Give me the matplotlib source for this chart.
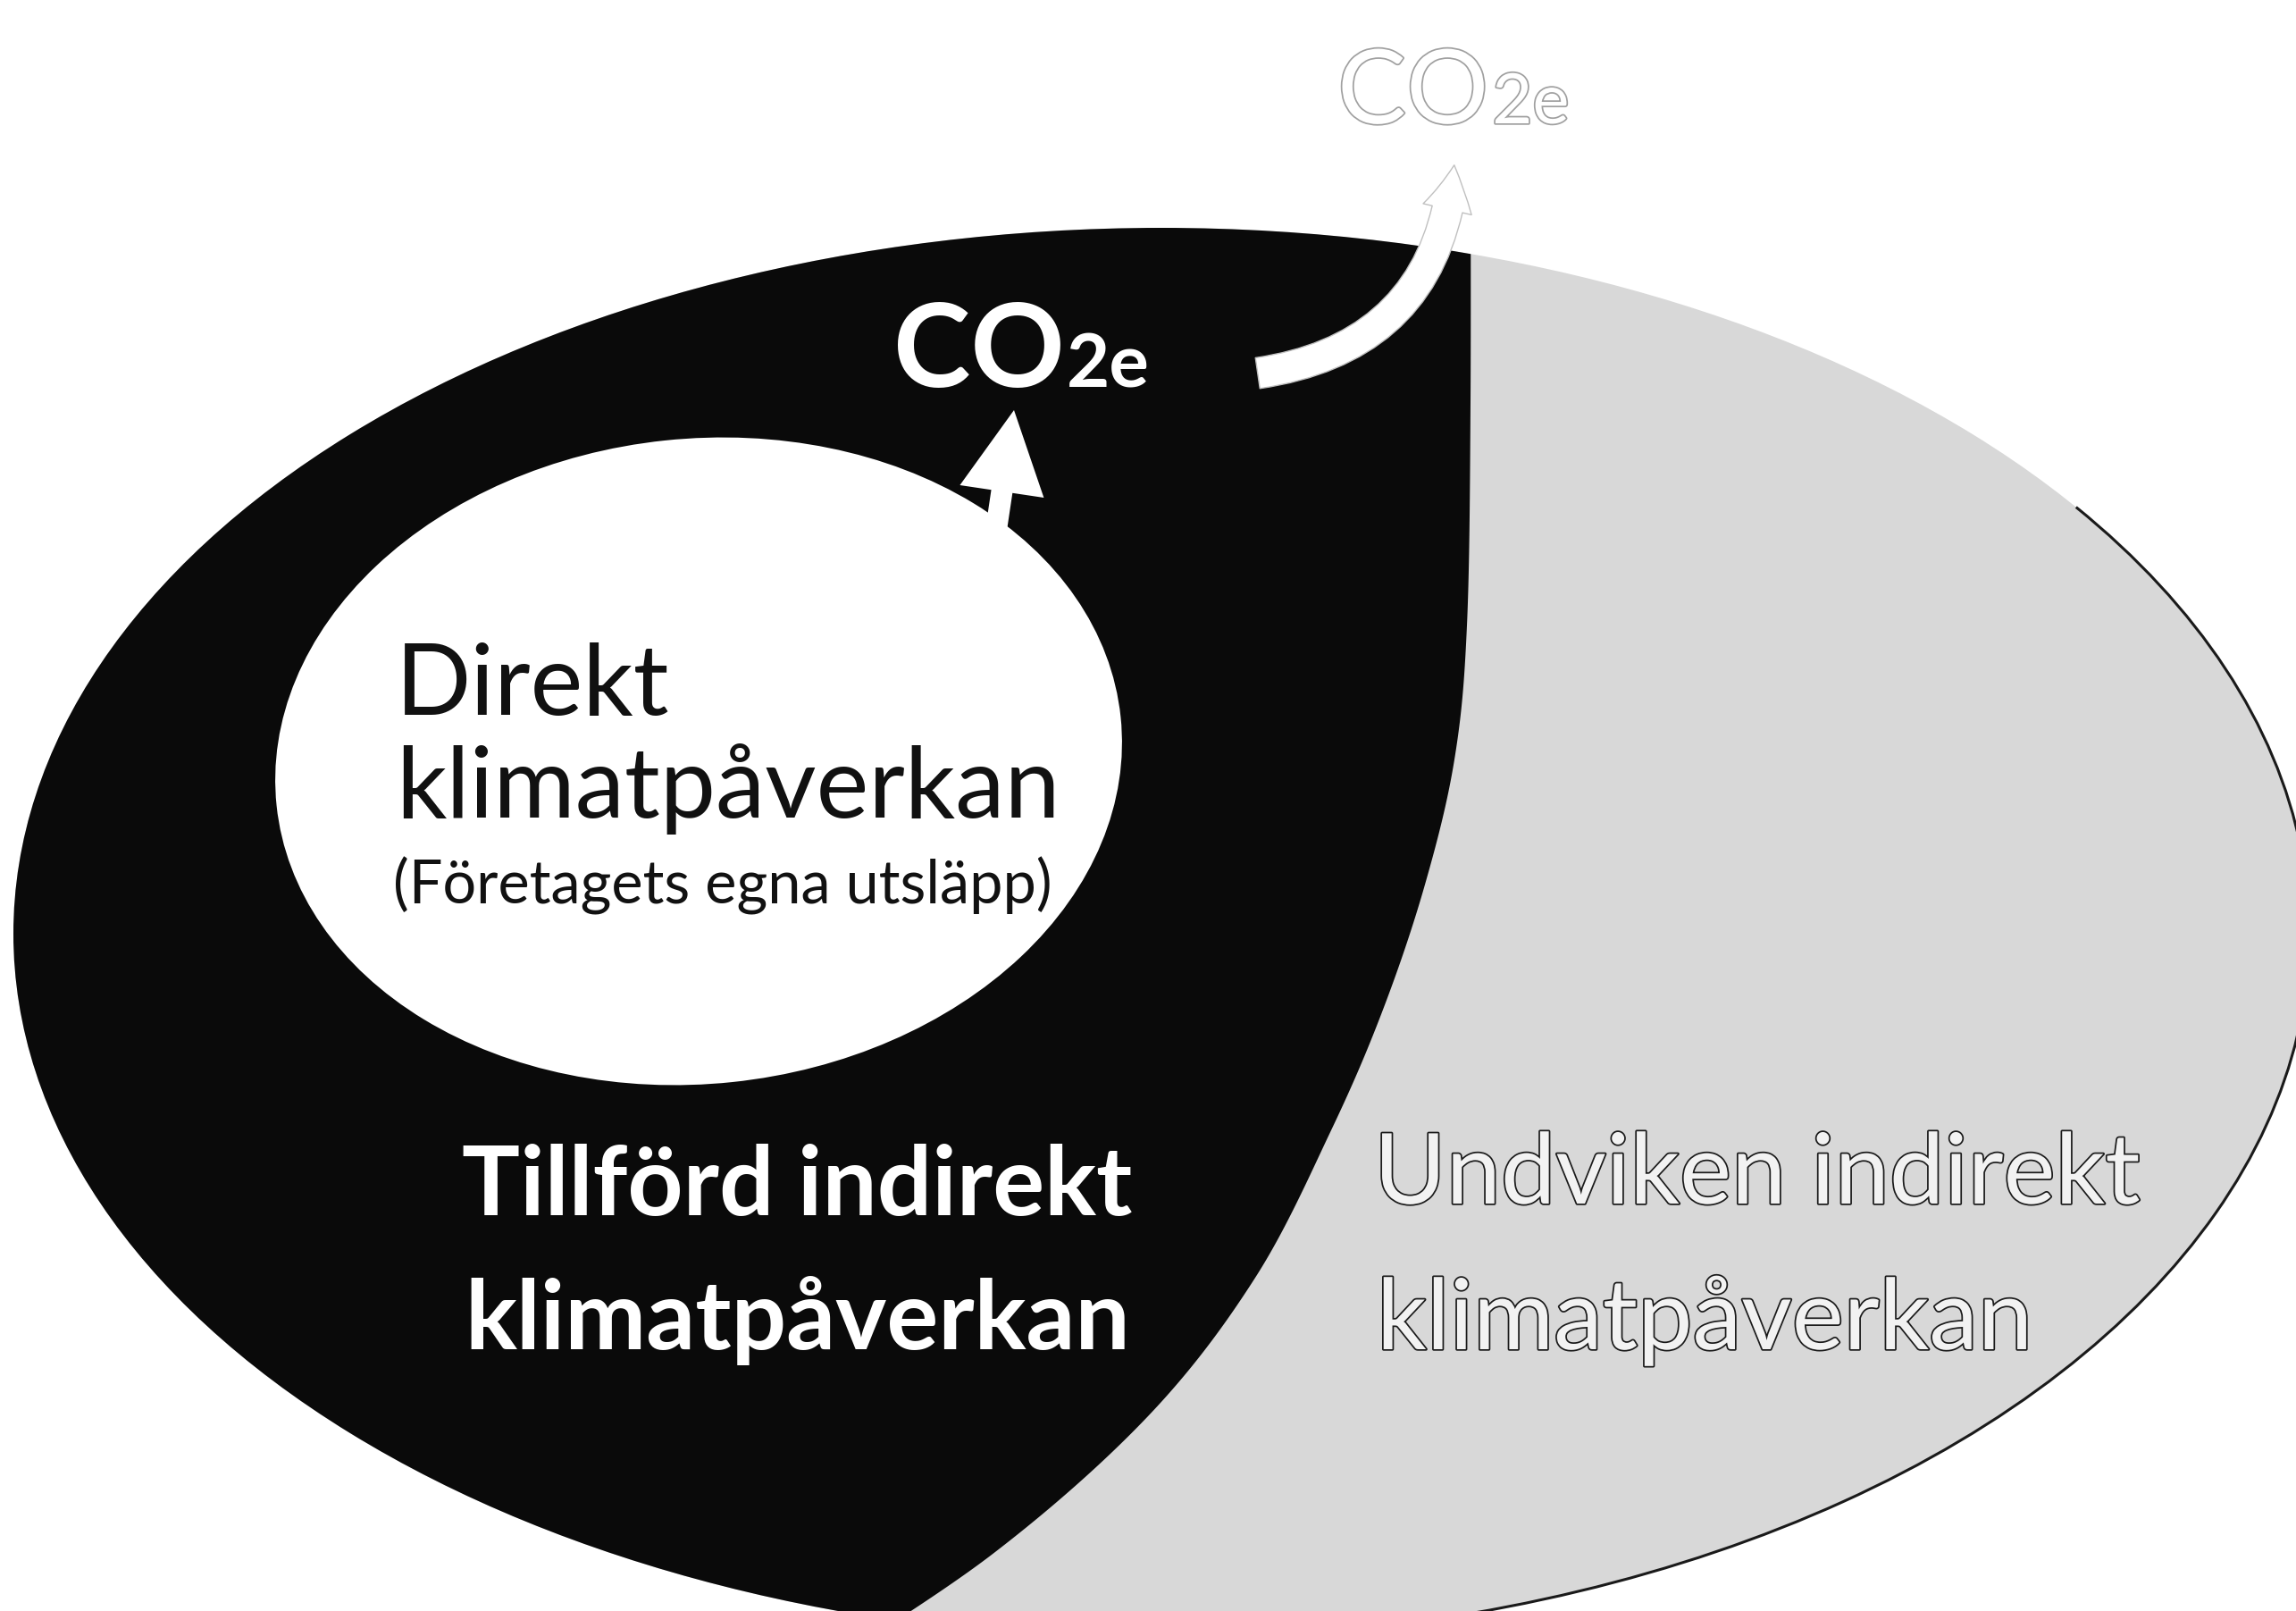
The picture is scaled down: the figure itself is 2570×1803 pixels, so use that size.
import numpy as np
import matplotlib
matplotlib.use("Agg")
import matplotlib.pyplot as plt
from matplotlib.patches import Ellipse, Polygon, Arc, FancyArrow, FancyArrowPatch
import matplotlib.patheffects as pe

plt.rcParams["font.family"] = ["Lato", "DejaVu Sans"]

# texts of the diagram
direct_title = ["Direkt", "klimatpåverkan"]
direct_note = "(Företagets egna utsläpp)"
supplied_title = ["Tillförd indirekt", "klimatpåverkan"]
avoided_title = ["Undviken indirekt", "klimatpåverkan"]
gas_main = "CO"
gas_sub = "2e"

# shape outline, in pixels of the 2570 x 1803 picture (y downwards)
outer_center = (1300, 1045)
outer_size = (2570, 1580)
inner_center = (782, 852)
inner_size = (950, 722)
inner_angle = -6
split_x = [1646, 1646, 1642, 1628, 1595, 1548, 1490, 1405, 1285, 1110, 900]
split_y = [100, 450, 700, 850, 990, 1130, 1265, 1430, 1585, 1740, 1880]


def smooth(xs, ys, n=40):
    # catmull-rom through the given points
    p = np.column_stack([xs, ys]).astype(float)
    p = np.vstack([p[0], p, p[-1]])
    t = np.linspace(0, 1, n, endpoint=False)[:, None]
    out = []
    for i in range(1, len(p) - 2):
        p0, p1, p2, p3 = p[i - 1], p[i], p[i + 1], p[i + 2]
        out.append(0.5 * (2 * p1 + (p2 - p0) * t
                          + (2 * p0 - 5 * p1 + 4 * p2 - p3) * t ** 2
                          + (3 * p1 - p0 - 3 * p2 + p3) * t ** 3))
    out.append(p[-2][None])
    return np.vstack(out)


fig = plt.figure(figsize=(25.7, 18.03), dpi=100)
ax = fig.add_axes([0, 0, 1, 1])
ax.set_xlim(0, 2570)
ax.set_ylim(1803, 0)
ax.axis("off")

# grey outer ellipse
outer = Ellipse(outer_center, *outer_size, fc="#d8d8d8", ec="none")
ax.add_patch(outer)
ax.add_patch(Arc(outer_center, *outer_size, theta1=-25, theta2=80,
                 color="#1a1a1a", lw=2.2))

# black part, left of the split curve
curve = smooth(split_x, split_y)
pts = np.vstack([curve, [[900, 1950], [-100, 1950], [-100, 100]]])
black = Polygon(pts, closed=True, fc="#0a0a0a", ec="none")
ax.add_patch(black)
black.set_clip_path(outer)

# white inner ellipse
ax.add_patch(Ellipse(inner_center, *inner_size, angle=inner_angle,
                     fc="white", ec="none"))

# arrows
ax.add_patch(FancyArrow(1108, 640, 27, -181, width=24, head_width=95,
                        head_length=92, length_includes_head=True,
                        fc="white", ec="none"))
ax.add_patch(FancyArrowPatch((1405, 418), (1628, 182),
                             connectionstyle="arc3,rad=0.4",
                             arrowstyle="simple,head_length=36,head_width=40,tail_width=25",
                             fc="white", ec="#c0c0c0", lw=1))

# texts in the white ellipse
ax.text(443, 800, direct_title[0], fontsize=80, color="#111111", va="baseline")
ax.text(443, 915, direct_title[1], fontsize=80, color="#111111", va="baseline")
ax.text(440, 1012, direct_note, fontsize=48, color="#111111", va="baseline")

# texts in the black part
ax.text(517, 1360, supplied_title[0], fontsize=78, fontweight="bold",
        color="white", va="baseline")
ax.text(520, 1510, supplied_title[1], fontsize=78, fontweight="bold",
        color="white", va="baseline")

# hollow texts in the grey part
hollow = [pe.Stroke(linewidth=2.5, foreground="#1a1a1a"), pe.Normal()]
ax.text(1538, 1347, avoided_title[0], fontsize=79, color="#f2f2f2",
        va="baseline", path_effects=hollow)
ax.text(1541, 1510, avoided_title[1], fontsize=79, color="#f2f2f2",
        va="baseline", path_effects=hollow)

# CO2e labels
fig.canvas.draw()
inv = ax.transData.inverted()

t1 = ax.text(1000, 433, gas_main, fontsize=94, fontweight="bold",
             color="white", va="baseline")
x_end = inv.transform(t1.get_window_extent(fig.canvas.get_renderer()).get_points())[1, 0]
ax.text(x_end + 2, 433, gas_sub, fontsize=60, fontweight="bold",
        color="white", va="baseline")

faint = [pe.Stroke(linewidth=2.5, foreground="#a0a0a0"), pe.Normal()]
t2 = ax.text(1497, 138, gas_main, fontsize=83, color="white", va="baseline",
             path_effects=faint)
x_end = inv.transform(t2.get_window_extent(fig.canvas.get_renderer()).get_points())[1, 0]
ax.text(x_end + 4, 138, gas_sub, fontsize=56, color="white", va="baseline",
        path_effects=faint)

fig.savefig("out.png", dpi=100, facecolor="white")
